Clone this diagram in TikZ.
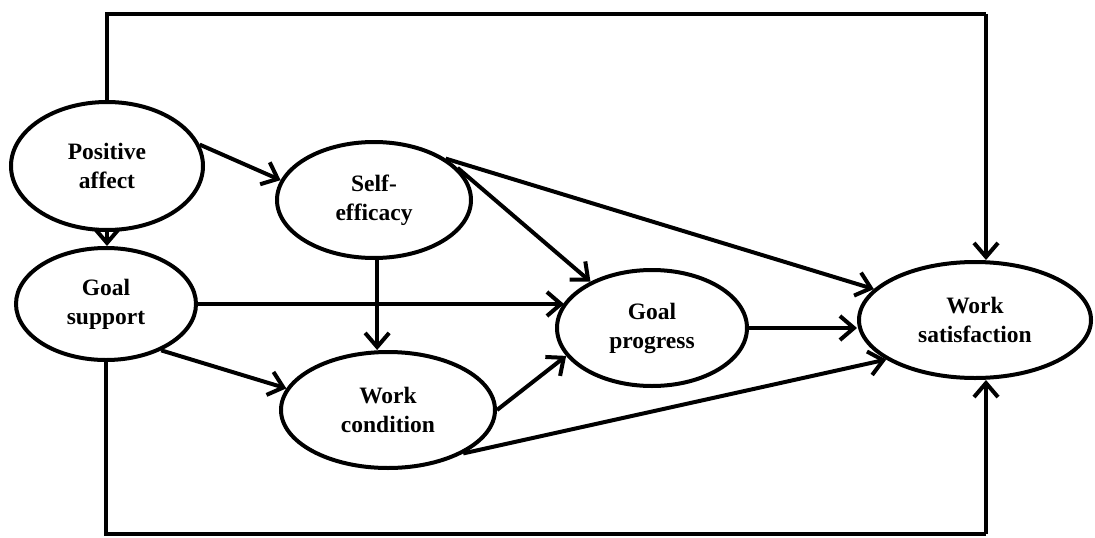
\documentclass[tikz,border=0pt]{standalone}
\usepackage{fontspec}
\setmainfont{Liberation Serif}
\usetikzlibrary{shapes.geometric,arrows.meta}
\begin{document}
\begin{tikzpicture}[x=1pt,y=-1pt,
  construct/.style={ellipse,draw,line width=4pt,inner sep=0pt,align=center,
    font=\fontsize{23.5}{29}\selectfont\bfseries},
  link/.style={line width=4pt,-{Straight Barb[length=14pt,width=24pt]}},
  frameline/.style={line width=4pt}]
\useasboundingbox (0,0) rectangle (1095,538);

% constructs
\node[construct,minimum width=192pt,minimum height=128pt] (pa) at (107,166) {Positive\\affect};
\node[construct,minimum width=194pt,minimum height=116pt] (se) at (374,200) {Self-\\efficacy};
\node[construct,minimum width=180pt,minimum height=112pt] (gs) at (106,304) {Goal\\support};
\node[construct,minimum width=214pt,minimum height=116pt] (wc) at (388,410) {Work\\condition};
\node[construct,minimum width=190pt,minimum height=116pt] (gp) at (652,328) {Goal\\progress};
\node[construct,minimum width=232pt,minimum height=116pt] (ws) at (975,320) {Work\\satisfaction};

% corners of the outer paths
\coordinate (tr) at (986,14);
\coordinate (br) at (986,534);

% direct paths
\draw[link] (pa.13.6) -- (se.168);
\draw[link] (pa.south) -- (pa.south |- gs.north);
\draw[link] (se.21.5) -- (gp.143);
\draw[link] (se.30.5) -- (ws.163.4);
\draw[link] (se.-87) -- (se.-87 |- wc.north);
\draw[link] (gs.east) -- (gs.east -| gp.164.5);
\draw[link] (gs.-40) -- (wc.168);
\draw[link] (wc.east) -- (gp.198);
\draw[link] (wc.-30) -- (ws.204);
\draw[link] (gp.east) -- (gp.east -| ws.west);

% outer paths to work satisfaction
\draw[frameline] (pa.north) -- (pa.north |- tr) -- (tr);
\draw[link] (tr) -- (tr |- ws.north);
\draw[frameline] (gs.south) -- (gs.south |- br) -- (br);
\draw[link] (br) -- (br |- ws.south);
\end{tikzpicture}
\end{document}
